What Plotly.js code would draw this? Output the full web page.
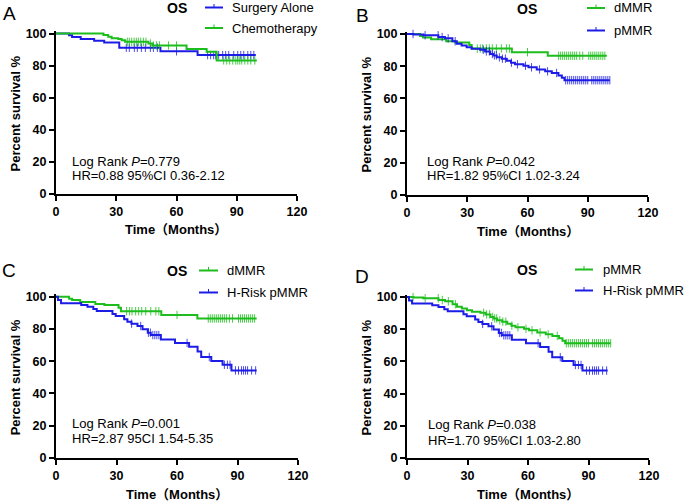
<!DOCTYPE html>
<html>
<head>
<meta charset="utf-8">
<script src="https://cdn.plot.ly/plotly-3.0.1.min.js"></script>
<style>html,body{margin:0;padding:0;background:#fff;}#plot{width:685px;height:501px;}</style>
</head>
<body>
<div id="plot"></div>
<script>
// ---------------- DATA ----------------
// Panel A: Surgery Alone vs Chemotherapy
const surgT = [0, 6.5, 8, 12.3, 19, 24, 31.5, 52, 70.5, 99.5];
const surgS = [100, 98.9, 97.8, 96.6, 95.5, 94.3, 91.1, 88.9, 86.5, 86.5];
const surgC = [35, 36.5, 39, 40.5, 42.5, 44.5, 47, 48.5, 50.5, 60, 75.5, 77, 78.5, 79.5, 81, 83, 84.5, 86, 88.5, 90.5, 92, 93.5, 95.5, 97, 98.5];
const chemoT = [0, 23.6, 26, 27.7, 31, 32.7, 34.4, 46, 48, 65, 75, 80, 100];
const chemoS = [100, 99, 98, 97, 96.5, 95.8, 94.8, 93.8, 92.5, 90.3, 88.6, 83.2, 83.2];
const chemoC = [35.5, 36.5, 37.7, 38.9, 40, 41, 42.2, 43.5, 44.8, 47, 48.5, 50, 51.5, 56, 60, 83.5, 85, 86.5, 88, 89.5, 90.5, 91.5, 92.5, 94, 95.5, 97, 99];
// dMMR
const dT = [0, 6.5, 8, 12, 19.5, 24, 31, 32.2, 52.2, 70.1, 99.5];
const dS = [100, 98.8, 97.9, 96.7, 95.5, 94.8, 93.2, 91, 88.7, 86.5, 86.5];
const dC = [35, 36.5, 37.7, 39.5, 41, 42.5, 44.5, 47, 49.5, 51, 60, 75.5, 76.5, 77.5, 78.5, 79.5, 80.5, 81.5, 82.5, 83.5, 84.5, 86, 87.5, 90.5, 91.5, 92.5, 93.5, 94.5, 95.5, 96.5, 97.5, 98.5];
// pMMR
const pT = [0, 3.2, 8.1, 15.6, 18.9, 22.6, 24.8, 27.2, 29.7, 32.2, 36.4, 38.9, 41.4, 43, 44.7, 47.2, 49.7, 51.8, 53.8, 58, 60.5, 64.6, 68.8, 72.1, 75.4, 77.1, 78.4, 101];
const pS = [100, 99.7, 99.2, 98.1, 97.3, 95.5, 94, 92.8, 91.7, 90.9, 90.2, 89.2, 87.6, 86.7, 85.5, 84.7, 83.4, 82.2, 81.2, 80.3, 79.3, 78, 76.8, 75.8, 74.3, 72.8, 71.3, 71.3];
const pC = [3, 9, 15.5, 17.5, 20.5, 24, 38, 39.5, 41, 42.5, 43.5, 44.5, 46, 47.5, 49, 52, 55, 59, 62, 66, 70, 74.5, 79, 80, 81, 82, 83, 84, 85, 86, 87, 88, 89, 90, 92, 93, 94, 95, 96, 97, 98, 99, 100, 101];
// H-Risk pMMR
const hT = [0, 1, 2.5, 12.5, 15.6, 18.5, 20.2, 28, 29.6, 33.8, 35.4, 37.4, 40.4, 42.9, 45.5, 47, 52, 59, 66, 70.2, 72, 77, 82.6, 87, 99.5];
const hS = [100, 97.9, 95.9, 94.8, 93.8, 92.4, 91.1, 89.3, 88, 86, 84.5, 83.3, 81.8, 79.8, 77.7, 76.2, 73.5, 71.3, 69, 66, 62.6, 60.2, 57.8, 54.3, 54.3];
const hC = [37.5, 42, 45.8, 46.8, 48, 49, 50, 51, 65, 76, 83.5, 85, 86.3, 89, 90.5, 92, 93, 94, 95, 97, 99];

const xTicks = [0, 30, 60, 90, 120];
const yTicks = [0, 20, 40, 60, 80, 100];

const panels = [
  {letter: 'A', groups: [['Surgery Alone', surgT, surgS, surgC, 'blue'], ['Chemotherapy', chemoT, chemoS, chemoC, 'green']],
   stats: ['Log Rank <i>P</i>=0.779', 'HR=0.88 95%CI 0.36-2.12']},
  {letter: 'B', groups: [['dMMR', dT, dS, dC, 'green'], ['pMMR', pT, pS, pC, 'blue']],
   stats: ['Log Rank <i>P</i>=0.042', 'HR=1.82 95%CI 1.02-3.24']},
  {letter: 'C', groups: [['dMMR', dT, dS, dC, 'green'], ['H-Risk pMMR', hT, hS, hC, 'blue']],
   stats: ['Log Rank <i>P</i>=0.001', 'HR=2.87 95CI 1.54-5.35']},
  {letter: 'D', groups: [['pMMR', pT, pS, pC, 'green'], ['H-Risk pMMR', hT, hS, hC, 'blue']],
   stats: ['Log Rank <i>P</i>=0.038', 'HR=1.70 95%CI 1.03-2.80']}
];

// ---------------- STYLE / LAYOUT ----------------
const W = 685, H = 501;
const COL = {blue: '#1c1ce6', green: '#1cbd1c'};
const FONT = 'Liberation Sans, Arial, Noto Sans CJK SC, sans-serif';
const px = v => v / W;
const py = v => 1 - v / H;

// plot-area boxes in pixels: left, right, y(0), y(100)
const boxes = [
  {l: 56, r: 297, b: 193.5, t: 33.5},
  {l: 407, r: 648, b: 195, t: 34},
  {l: 56, r: 298, b: 458, t: 296.7},
  {l: 407, r: 649, b: 458, t: 297}
];
const YMAX = 101.5;

function stepAt(T, S, t) {
  let v = S[0];
  for (let i = 0; i < T.length; i++) { if (T[i] <= t) v = S[i]; }
  return v;
}

const traces = [];
const layout = {
  width: W, height: H, margin: {l: 0, r: 0, t: 0, b: 0},
  paper_bgcolor: '#fff', plot_bgcolor: '#fff', showlegend: false,
  annotations: [], shapes: []
};

function ann(x, y, text, o) {
  layout.annotations.push(Object.assign({
    xref: 'paper', yref: 'paper', x: px(x), y: py(y), text: text, showarrow: false,
    xanchor: 'center', yanchor: 'middle',
    font: {family: FONT, size: 13, color: '#000'}
  }, o || {}));
}

// legend placement (pixels): OS title, legend line start/end, text x, row ys
const legendPos = [
  {osx: 177, osy: 8, l1: 205, l2: 223, tx: 230, ys: [7.5, 28]},
  {osx: 527, osy: 8.5, l1: 587, l2: 605, tx: 612, ys: [8, 30.5]},
  {osx: 177, osy: 270.5, l1: 199, l2: 218, tx: 225, ys: [270.5, 292.5]},
  {osx: 527, osy: 269.5, l1: 575, l2: 593, tx: 601, ys: [269.5, 290.5]}
];
const letterPos = [[9, 14], [362, 15], [9, 270], [362, 276]];
const statsPos = [[70, 161, 175.5], [425, 161, 175.5], [70, 423, 438.5], [426, 424, 440.5]];

panels.forEach((p, k) => {
  const b = boxes[k];
  const xa = k === 0 ? 'xaxis' : 'xaxis' + (k + 1);
  const ya = k === 0 ? 'yaxis' : 'yaxis' + (k + 1);
  const xr = k === 0 ? 'x' : 'x' + (k + 1);
  const yr = k === 0 ? 'y' : 'y' + (k + 1);
  const pxPerUnit = (b.b - b.t) / 100;
  const top = b.b - YMAX * pxPerUnit;
  const common = {
    showline: true, linecolor: '#000', linewidth: 2, ticks: 'outside', ticklen: 5, tickwidth: 2,
    tickcolor: '#000', showgrid: false, zeroline: false, fixedrange: true,
    tickfont: {family: FONT, size: 12.5, color: '#000', weight: 'bold'}
  };
  layout[xa] = Object.assign({}, common, {
    domain: [px(b.l), px(b.r)], anchor: yr, range: [0, 120], tickvals: xTicks, ticktext: xTicks.map(String)
  });
  layout[ya] = Object.assign({}, common, {
    domain: [py(b.b), py(top)], anchor: xr, range: [0, YMAX], tickvals: yTicks, ticktext: yTicks.map(String)
  });

  p.groups.forEach(g => {
    const [name, T, S, C, c] = g;
    traces.push({
      type: 'scatter', mode: 'lines', x: T, y: S, xaxis: xr, yaxis: yr, name: name,
      line: {shape: 'hv', color: COL[c], width: 2}, hoverinfo: 'skip'
    });
    traces.push({
      type: 'scatter', mode: 'markers', x: C, y: C.map(t => stepAt(T, S, t)), xaxis: xr, yaxis: yr,
      name: name + ' censored', cliponaxis: false,
      marker: {symbol: 'line-ns-open', size: 6, color: COL[c], line: {color: COL[c], width: 1}, opacity: 0.8},
      hoverinfo: 'skip'
    });
  });

  // panel letter
  ann(letterPos[k][0], letterPos[k][1], p.letter, {font: {family: FONT, size: 19, color: '#000'}});
  // OS title
  const L = legendPos[k];
  ann(L.osx, L.osy, 'OS', {font: {family: FONT, size: 14, color: '#000', weight: 'bold'}});
  // legend entries
  p.groups.forEach((g, i) => {
    const c = COL[g[4]];
    const yy = L.ys[i];
    layout.shapes.push({type: 'line', xref: 'paper', yref: 'paper', x0: px(L.l1), x1: px(L.l2), y0: py(yy), y1: py(yy), line: {color: c, width: 2}});
    const mid = (L.l1 + L.l2) / 2;
    layout.shapes.push({type: 'line', xref: 'paper', yref: 'paper', x0: px(mid), x1: px(mid), y0: py(yy - 3.5), y1: py(yy + 0.5), line: {color: c, width: 1}});
    ann(L.tx, yy, g[0], {xanchor: 'left'});
  });
  // stats
  const sp = statsPos[k];
  ann(sp[0], sp[1], p.stats[0], {xanchor: 'left'});
  ann(sp[0], sp[2], p.stats[1], {xanchor: 'left'});
  // axis titles
  ann((b.l + b.r) / 2, b.b + 36.5, 'Time（Months）', {font: {family: FONT, size: 13, color: '#000', weight: 'bold'}});
  ann(b.l - 41, (b.b + b.t) / 2, 'Percent survival %', {textangle: -90, font: {family: FONT, size: 13, color: '#000', weight: 'bold'}});
});

Plotly.newPlot('plot', traces, layout, {staticPlot: true, displayModeBar: false});
</script>
</body>
</html>
